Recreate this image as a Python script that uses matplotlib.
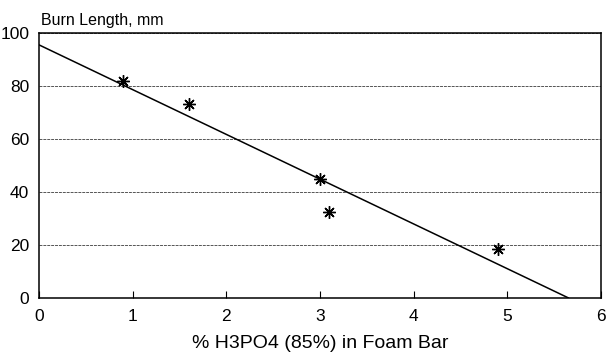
import matplotlib.pyplot as plt

# measured data (% H3PO4 vs burn length)
pct_h3po4 = [0.9, 1.6, 3.0, 3.1, 4.9]
burn_length = [82, 73, 45, 32.5, 18.5]

# fitted line end points
fit_x = [0, 5.65]
fit_y = [95.5, 0]

x_ticks = [0, 1, 2, 3, 4, 5, 6]
y_ticks = [0, 20, 40, 60, 80, 100]

plt.rcParams['font.family'] = ['Liberation Sans', 'DejaVu Sans']

fig = plt.figure(figsize=(6.09, 3.58), dpi=100)
ax = fig.add_axes([0.064, 0.168, 0.923, 0.740])

ax.plot(fit_x, fit_y, color='black', lw=1.1)
ax.plot(pct_h3po4, burn_length, ls='none', marker=(8, 2, 0), ms=9, mew=1.0, color='black')

ax.set_xlim(0, 6)
ax.set_ylim(0, 100)
ax.set_xticks(x_ticks)
ax.set_yticks(y_ticks)
ax.yaxis.grid(True, ls=(0, (3, 1)), color='#555555', lw=0.7)
ax.tick_params(axis='x', direction='in', length=5, labelsize=12.5, pad=8)
ax.tick_params(axis='y', direction='in', length=0, labelsize=12.5, pad=7)
for s in ax.spines.values():
    s.set_linewidth(1.1)

ax.set_xlabel('% H3PO4 (85%) in Foam Bar', fontsize=14, labelpad=8)
ax.text(0.003, 1.02, 'Burn Length, mm', transform=ax.transAxes, fontsize=11.5, ha='left', va='bottom')

fig.savefig('out.png', dpi=100)
